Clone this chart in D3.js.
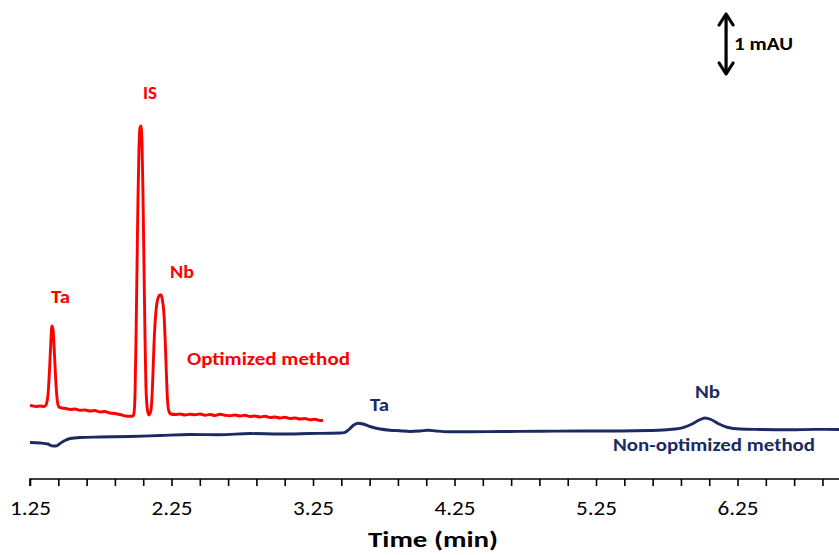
<!DOCTYPE html>
<html><head><meta charset="utf-8">
<script src="https://cdn.jsdelivr.net/npm/d3@7"></script>
<style>
html,body{margin:0;padding:0;background:#fff;}
text{font-family:Carlito, Lato, "Open Sans", sans-serif;}
</style></head>
<body>
<svg id="chart" width="839" height="555"></svg>
<script>
// Time (min), absorbance (mAU, relative offset)
const optimizedTrace = [
 [1.250,1.075],[1.271,1.067],[1.292,1.058],[1.321,1.067],[1.349,1.058],[1.363,1.083],
 [1.377,1.25],[1.388,1.667],[1.398,2.167],[1.405,2.40],[1.413,2.333],[1.423,1.917],
 [1.434,1.417],[1.444,1.133],[1.455,1.05],[1.476,1.033],
 [1.504,1.025],[1.533,1.008],[1.568,1.017],[1.603,0.995],[1.639,1.0],[1.674,0.983],
 [1.709,0.992],[1.745,0.967],[1.780,0.975],[1.815,0.95],[1.851,0.942],[1.886,0.925],
 [1.921,0.903],[1.957,0.895],[1.978,0.90],
 [1.985,0.95],[1.992,1.25],[1.999,2.167],[2.006,3.333],[2.013,4.5],[2.020,5.333],
 [2.027,5.70],[2.034,5.733],[2.041,5.5],[2.048,4.667],[2.055,3.5],[2.062,2.333],
 [2.069,1.417],[2.080,1.0],[2.091,0.917],[2.105,1.0],[2.116,1.417],[2.126,2.083],
 [2.141,2.667],[2.155,2.867],[2.169,2.917],[2.176,2.917],[2.183,2.867],[2.197,2.583],
 [2.208,2.0],[2.218,1.333],[2.229,1.0],[2.246,0.933],
 [2.275,0.925],[2.310,0.933],[2.345,0.917],[2.381,0.930],[2.416,0.920],[2.451,0.933],
 [2.487,0.913],[2.522,0.925],[2.557,0.908],[2.593,0.928],[2.628,0.913],[2.663,0.903],
 [2.699,0.917],[2.734,0.900],[2.769,0.912],[2.805,0.892],[2.840,0.900],[2.875,0.883],
 [2.911,0.895],[2.946,0.875],[2.981,0.883],[3.017,0.867],[3.052,0.878],[3.087,0.858],
 [3.123,0.867],[3.158,0.850],[3.193,0.858],[3.229,0.837],[3.264,0.847],[3.300,0.825],
 [3.321,0.828]
];
const nonOptimizedTrace = [
 [1.250,0.458],[1.321,0.45],[1.377,0.433],[1.405,0.403],[1.434,0.40],[1.462,0.442],
 [1.497,0.492],[1.533,0.525],[1.603,0.542],[1.745,0.55],[1.957,0.558],[2.169,0.575],
 [2.381,0.592],[2.593,0.587],[2.805,0.608],[3.017,0.60],[3.229,0.608],[3.441,0.617],
 [3.476,0.628],[3.504,0.675],[3.533,0.742],[3.568,0.78],[3.603,0.767],[3.653,0.725],
 [3.724,0.683],[3.794,0.663],[3.865,0.655],[3.936,0.642],[4.006,0.65],[4.063,0.662],
 [4.119,0.65],[4.204,0.638],[4.360,0.638],[4.572,0.642],[4.854,0.645],[5.137,0.65],
 [5.420,0.65],[5.632,0.658],[5.773,0.675],[5.865,0.708],[5.929,0.767],[5.979,0.833],
 [6.020,0.867],[6.062,0.842],[6.119,0.767],[6.183,0.708],[6.268,0.683],[6.409,0.675],
 [6.621,0.67],[6.798,0.677],[6.967,0.675]
];
const xDomain = [1.25, 6.967];
const yDomain = [0, 7.5];
const majorTickValues = [1.25, 2.25, 3.25, 4.25, 5.25, 6.25];
const majorTickLabels = ["1.25", "2.25", "3.25", "4.25", "5.25", "6.25"];
const minorTickStep = 0.2;
// peak / trace annotations: [text, time, mAU, colour, text width]
const annotations = [
 ["Ta", 1.466, 2.783, "#ff0000", 19],
 ["IS", 2.098, 6.183, "#ff0000", 14],
 ["Nb", 2.324, 3.20, "#ff0000", 24],
 ["Optimized method", 2.935, 1.75, "#ff0000", 163],
 ["Ta", 3.72, 0.988, "#1b2a63", 19],
 ["Nb", 6.038, 1.20, "#1b2a63", 25],
 ["Non-optimized method", 6.084, 0.317, "#1b2a63", 202]
];
const scaleBar = {time: 6.169, from: 6.6, to: 7.6, label: "1 mAU"};
const xTitle = "Time (min)";

const svg = d3.select("#chart");
const x = d3.scaleLinear().domain(xDomain).range([30, 839]);
const y = d3.scaleLinear().domain(yDomain).range([470, 20]);

const line = d3.line().x(d => x(d[0])).y(d => y(d[1])).curve(d3.curveMonotoneX);

svg.append("path").datum(nonOptimizedTrace).attr("d", line)
  .attr("fill", "none").attr("stroke", "#1b2a63").attr("stroke-width", 2.9)
  .attr("stroke-linejoin", "round");
svg.append("path").datum(optimizedTrace).attr("d", line)
  .attr("fill", "none").attr("stroke", "#ff0000").attr("stroke-width", 2.9)
  .attr("stroke-linejoin", "round");

// x axis
const minorTicks = d3.range(xDomain[0], xDomain[1] + 1e-9, minorTickStep);
const axisG = svg.append("g").attr("transform", "translate(0,479)");
axisG.call(d3.axisBottom(x).tickValues(minorTicks).tickSize(7).tickFormat(""));
axisG.select(".domain").attr("d", `M${x(xDomain[0])},7V0H${x(xDomain[1])}`)
  .attr("stroke", "#000").attr("stroke-width", 1.6);
axisG.selectAll(".tick line").attr("stroke", "#000").attr("stroke-width", 1.6);
const labG = svg.append("g").attr("transform", "translate(0,479)");
labG.call(d3.axisBottom(x).tickValues(majorTickValues).tickSize(0)
  .tickFormat((d, i) => majorTickLabels[i]));
labG.select(".domain").remove();
labG.selectAll(".tick text").attr("y", 36).attr("dy", 0)
  .attr("textLength", 41).attr("lengthAdjust", "spacingAndGlyphs")
  .style("font-family", "Carlito, Lato, 'Open Sans', sans-serif")
  .style("font-size", "20px").attr("fill", "#000");

svg.append("text").attr("x", 433).attr("y", 547).attr("text-anchor", "middle")
  .attr("textLength", 130).attr("lengthAdjust", "spacingAndGlyphs")
  .style("font-size", "22.5px").style("font-weight", "bold").attr("fill", "#000")
  .text(xTitle);

// annotations
svg.selectAll("text.ann").data(annotations).enter().append("text")
  .attr("class", "ann")
  .attr("x", d => x(d[1])).attr("y", d => y(d[2]))
  .attr("text-anchor", "middle")
  .attr("textLength", d => d[4]).attr("lengthAdjust", "spacingAndGlyphs")
  .attr("fill", d => d[3])
  .style("font-size", "19px").style("font-weight", "bold")
  .text(d => d[0]);

// scale bar (double arrow)
const ax = x(scaleBar.time), yTop = y(scaleBar.to), yBot = y(scaleBar.from);
const sb = svg.append("g").attr("stroke", "#000").attr("stroke-width", 3.2)
  .attr("fill", "none").attr("stroke-linecap", "round").attr("stroke-linejoin", "round");
sb.append("line").attr("x1", ax).attr("x2", ax).attr("y1", yTop + 1).attr("y2", yBot - 1);
sb.append("path").attr("d", `M${ax-7},${yTop+11}L${ax},${yTop}L${ax+7},${yTop+11}`);
sb.append("path").attr("d", `M${ax-7},${yBot-11}L${ax},${yBot}L${ax+7},${yBot-11}`);
svg.append("text").attr("x", ax + 8).attr("y", yTop + 36)
  .attr("textLength", 59).attr("lengthAdjust", "spacingAndGlyphs")
  .style("font-size", "19px").style("font-weight", "bold").attr("fill", "#000")
  .text(scaleBar.label);
</script>
</body></html>
